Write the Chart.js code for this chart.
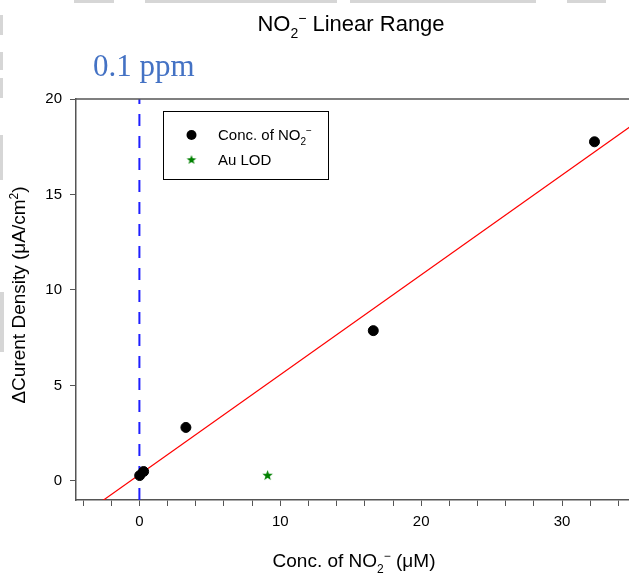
<!DOCTYPE html>
<html>
<head>
<meta charset="utf-8">
<script src="https://cdn.jsdelivr.net/npm/chart.js@4.4.1/dist/chart.umd.min.js"></script>
<style>
  html, body { margin: 0; padding: 0; background: #fff; }
  #wrap { position: relative; width: 629px; height: 573px; overflow: hidden; }
  .edge { position: absolute; background: #d6d6d6; }
</style>
</head>
<body>
<div id="wrap">
  <canvas id="chart" width="629" height="573"></canvas>
  <div class="edge" style="left:74px;top:0;width:40px;height:3px"></div>
  <div class="edge" style="left:145px;top:0;width:192px;height:3px"></div>
  <div class="edge" style="left:350px;top:0;width:186px;height:3px"></div>
  <div class="edge" style="left:567px;top:0;width:39px;height:3px"></div>
  <div class="edge" style="left:0;top:15px;width:3px;height:20px"></div>
  <div class="edge" style="left:0;top:52px;width:3px;height:18px"></div>
  <div class="edge" style="left:0;top:78px;width:3px;height:20px"></div>
  <div class="edge" style="left:0;top:135px;width:3px;height:45px"></div>
  <div class="edge" style="left:0;top:292px;width:4px;height:60px"></div>
</div>
<script>
// NO2- calibration points: concentration (µM) vs change in current density (µA/cm²)
const concValues = [0.02, 0.3, 3.3, 16.6, 32.3];
const densityValues = [0.28, 0.49, 2.8, 7.87, 17.76];

// Au limit of detection
const lodConc = [9.1];
const lodDensity = [0.28];

// least-squares line through the calibration points
const fitSlope = 0.523;
const fitIntercept = 0.33;
const fitXRange = [-4.5, 35];

// 0.1 ppm marker
const ppmMarkerX = 0;

const xMinorStep = 2;
const xTickLabels = [0, 10, 20, 30];
const yTickLabels = [0, 5, 10, 15, 20];

const SANS = '"Liberation Sans", Arial, sans-serif';
const AXIS_COLOR = '#555';

function makeStar(r, color) {
    const size = Math.ceil(r * 2 + 2);
    const c = document.createElement('canvas');
    c.width = c.height = size;
    const g = c.getContext('2d');
    g.fillStyle = color;
    g.beginPath();
    for (let i = 0; i < 10; i++) {
        const a = -Math.PI / 2 + i * Math.PI / 5;
        const rr = i % 2 ? r * 0.42 : r;
        g.lineTo(size / 2 + rr * Math.cos(a), size / 2 + rr * Math.sin(a));
    }
    g.closePath();
    g.fill();
    return c;
}

const starPoint = makeStar(5.5, '#008000');
const starLegend = makeStar(5, '#008000');

// text with sub/superscript pieces: [text, 'n' | 'sub' | 'sup']
function drawRich(ctx, parts, x, y, size, align) {
    const fontOf = k => (k === 'n' ? size : Math.round(size * 0.65)) + 'px ' + SANS;
    const widths = parts.map(([t, k]) => { ctx.font = fontOf(k); return ctx.measureText(t).width; });
    const total = widths.reduce((a, b) => a + b, 0);
    let cx = align === 'center' ? x - total / 2 : x;
    ctx.textAlign = 'left';
    ctx.textBaseline = 'alphabetic';
    parts.forEach(([t, k], i) => {
        ctx.font = fontOf(k);
        let dy = 0;
        if (k === 'sub') dy = size * 0.3;
        if (k === 'sup') dy = -size * 0.38;
        ctx.fillText(t, cx, y + dy);
        cx += widths[i];
    });
}

const annotations = {
    id: 'annotations',
    afterDraw(chart) {
        const { ctx, chartArea } = chart;
        ctx.save();

        // top frame line
        ctx.strokeStyle = AXIS_COLOR;
        ctx.lineWidth = 1.5;
        ctx.beginPath();
        ctx.moveTo(chartArea.left, chartArea.top);
        ctx.lineTo(chartArea.right, chartArea.top);
        ctx.stroke();

        ctx.fillStyle = '#000';
        drawRich(ctx, [['NO', 'n'], ['2', 'sub'], ['\u2212', 'sup'], [' Linear Range', 'n']], 351, 31, 22, 'center');
        drawRich(ctx, [['Conc. of NO', 'n'], ['2', 'sub'], ['\u2212', 'sup'], [' (\u03BCM)', 'n']], 354, 567, 19, 'center');

        ctx.save();
        ctx.translate(25, 295);
        ctx.rotate(-Math.PI / 2);
        drawRich(ctx, [['\u0394Curent Density (\u03BCA/cm', 'n'], ['2', 'sup'], [')', 'n']], 0, 0, 19, 'center');
        ctx.restore();

        // 0.1 ppm label
        ctx.fillStyle = '#4472C4';
        ctx.font = '31px "Liberation Serif", "Times New Roman", serif';
        ctx.fillText('0.1 ppm', 93, 76);

        // legend box
        ctx.strokeStyle = '#000';
        ctx.lineWidth = 1;
        ctx.strokeRect(163.5, 111.5, 165, 68);
        ctx.fillStyle = '#000';
        ctx.beginPath();
        ctx.arc(191.5, 135, 5, 0, Math.PI * 2);
        ctx.fill();
        ctx.drawImage(starLegend, 191.5 - starLegend.width / 2, 160 - starLegend.height / 2);
        drawRich(ctx, [['Conc. of NO', 'n'], ['2', 'sub'], ['\u2212', 'sup']], 218, 140, 15, 'left');
        drawRich(ctx, [['Au LOD', 'n']], 218, 165, 15, 'left');

        ctx.restore();
    }
};

const fitLine = fitXRange.map(x => ({ x, y: fitSlope * x + fitIntercept }));

new Chart(document.getElementById('chart'), {
    type: 'scatter',
    data: {
        datasets: [
            {
                label: 'Conc. of NO2-',
                data: concValues.map((x, i) => ({ x, y: densityValues[i] })),
                backgroundColor: '#000',
                borderColor: '#000',
                pointRadius: 5,
                order: 0
            },
            {
                label: 'Au LOD',
                data: lodConc.map((x, i) => ({ x, y: lodDensity[i] })),
                pointStyle: starPoint,
                order: 1
            },
            {
                type: 'line',
                label: 'fit',
                data: fitLine,
                borderColor: '#ff0000',
                borderWidth: 1.2,
                pointRadius: 0,
                order: 3
            },
            {
                type: 'line',
                label: '0.1 ppm',
                data: [{ x: ppmMarkerX, y: -1 }, { x: ppmMarkerX, y: 20 }],
                borderColor: '#1f1fff',
                borderWidth: 2,
                borderDash: [12, 10],
                pointRadius: 0,
                order: 2
            }
        ]
    },
    options: {
        responsive: false,
        animation: false,
        layout: { autoPadding: false, padding: { top: 99, right: 0, bottom: 0, left: 0 } },
        plugins: {
            legend: { display: false },
            tooltip: { enabled: false },
            title: { display: false }
        },
        scales: {
            x: {
                type: 'linear',
                min: -4.5,
                max: 34.75,
                afterBuildTicks: scale => {
                    const ticks = [];
                    for (let v = -4; v <= 34; v += xMinorStep) ticks.push({ value: v });
                    scale.ticks = ticks;
                },
                afterFit: scale => {
                    scale.height = 73;
                    scale.paddingLeft = 0;
                    scale.paddingRight = 0;
                },
                ticks: {
                    autoSkip: false,
                    maxRotation: 0,
                    padding: 7,
                    color: '#000',
                    font: { family: SANS, size: 15 },
                    callback: v => (xTickLabels.includes(v) ? String(v) : '')
                },
                grid: { drawOnChartArea: false, drawTicks: true, tickLength: 6, color: AXIS_COLOR, lineWidth: 1 },
                border: { color: AXIS_COLOR, width: 1.5 }
            },
            y: {
                type: 'linear',
                min: -1,
                max: 20,
                afterBuildTicks: scale => {
                    scale.ticks = yTickLabels.map(v => ({ value: v }));
                },
                afterFit: scale => {
                    scale.width = 76;
                    scale.paddingTop = 0;
                    scale.paddingBottom = 0;
                },
                ticks: {
                    padding: 8,
                    color: '#000',
                    font: { family: SANS, size: 15 }
                },
                grid: { drawOnChartArea: false, drawTicks: true, tickLength: 6, color: AXIS_COLOR, lineWidth: 1 },
                border: { color: AXIS_COLOR, width: 1.5 }
            }
        }
    },
    plugins: [annotations]
});
</script>
</body>
</html>
